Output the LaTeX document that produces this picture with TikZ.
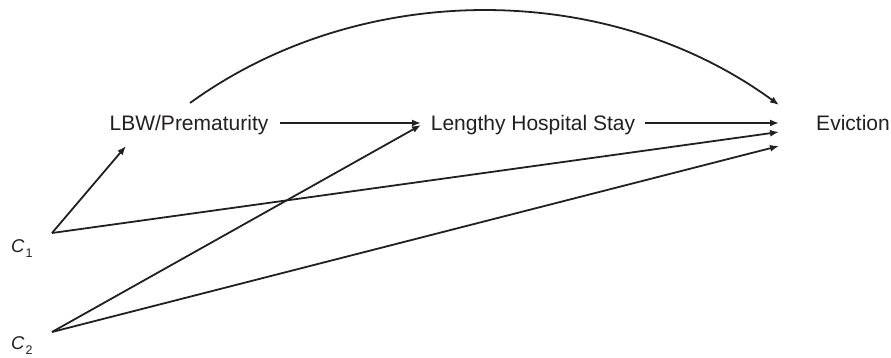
\documentclass[tikz,border=0pt]{standalone}
\usepackage{fontspec}
\setmainfont{Liberation Sans}
\usetikzlibrary{arrows.meta}
\definecolor{ink}{HTML}{231F20}
\begin{document}
\begin{tikzpicture}[x=1pt,y=-1pt,
  lab/.style={inner sep=0pt,text=ink,font=\fontsize{21}{25}\selectfont},
  cvar/.style={inner sep=0pt,anchor=base west,text=ink,font=\fontsize{18.5}{22}\selectfont},
  arr/.style={draw=ink,line width=1.8pt,-{Latex[length=9pt,width=7pt]}}]
\useasboundingbox (0,0) rectangle (891,358);
\node[lab,anchor=base] (lbw) at (189,131) {LBW/Prematurity};
\node[lab,anchor=base] (lhs) at (533,131) {Lengthy Hospital Stay};
\node[lab,anchor=base] (ev) at (853,131) {Eviction};
\node[cvar] (c1t) at (11,252) {\itshape C\kern1pt\raisebox{-5pt}{\fontsize{12.5}{14}\selectfont\upshape 1}};
\node[cvar] (c2t) at (11,349) {\itshape C\kern1pt\raisebox{-5pt}{\fontsize{12.5}{14}\selectfont\upshape 2}};
% connector ends
\coordinate (c1) at (52,233);
\coordinate (c2) at (52,332);
\coordinate (lbwout) at (280,123);
\coordinate (lbwin) at (126,146);
\coordinate (lbwtop) at (190,103);
\coordinate (lhsin) at (421,123);
\coordinate (lhsin2) at (421,125);
\coordinate (lhsout) at (645,123);
\coordinate (e0) at (779,105);
\coordinate (e1) at (779,123);
\coordinate (e2) at (779,132);
\coordinate (e3) at (779,146);
% connectors
\draw[arr] (lbwout) -- (lhsin);
\draw[arr] (lhsout) -- (e1);
\draw[arr] (c1) -- (lbwin);
\draw[arr] (c1) -- (e2);
\draw[arr] (c2) -- (lhsin2);
\draw[arr] (c2) -- (e3);
\draw[arr] (lbwtop) .. controls (361,-21) and (608,-20) .. (e0);
\end{tikzpicture}
\end{document}
